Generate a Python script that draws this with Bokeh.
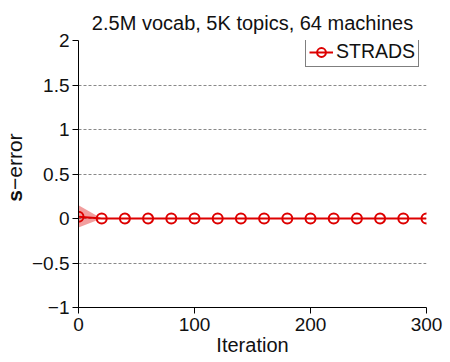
from bokeh.plotting import figure
from bokeh.layouts import row
from bokeh.models import Range1d, Label, FixedTicker, Legend, LegendItem
from bokeh.embed import file_html
from bokeh.resources import INLINE

# data
iterations = [0, 20, 40, 60, 80, 100, 120, 140, 160, 180, 200, 220, 240, 260, 280, 300]
s_error = [0.02, 0, 0, 0, 0, 0, 0, 0, 0, 0, 0, 0, 0, 0, 0, 0]
band_x = [0, 20]
band_upper = [0.15, 0.0]
band_lower = [-0.10, 0.0]
x_ticks = [0, 100, 200, 300]
y_ticks = [-1, -0.5, 0, 0.5, 1, 1.5, 2]
y_tick_labels = {-1: "\u22121", -0.5: "\u22120.5", 0: "0", 0.5: "0.5", 1: "1", 1.5: "1.5", 2: "2"}
series_name = "STRADS"

FONT = "Liberation Sans"
RED = "#dd0000"
TOP, BOTTOM = 40, 50
H = 358
SIDE_W = 28

main = figure(width=446 - SIDE_W, height=H, output_backend="svg", toolbar_location=None,
              x_range=Range1d(0, 300), y_range=Range1d(-1, 2),
              min_border_left=50, min_border_right=20, min_border_top=TOP,
              min_border_bottom=BOTTOM,
              title="2.5M vocab, 5K topics, 64 machines")
main.outline_line_color = None
main.background_fill_color = "white"
main.border_fill_color = "white"

main.title.text_font = FONT
main.title.text_font_size = "20px"
main.title.text_font_style = "normal"
main.title.align = "center"
main.title.text_color = "#111111"
main.title.standoff = 13

for ax in (main.xaxis[0], main.yaxis[0]):
    ax.axis_line_color = "black"
    ax.major_tick_line_color = "black"
    ax.major_tick_out = 6
    ax.major_tick_in = 0
    ax.minor_tick_line_color = None
    ax.major_label_text_font = FONT
    ax.major_label_text_font_size = "19px"
    ax.major_label_text_color = "#111111"

main.xaxis.ticker = FixedTicker(ticks=x_ticks)
main.yaxis.ticker = FixedTicker(ticks=y_ticks)
main.yaxis.major_label_overrides = y_tick_labels
main.xaxis.axis_label = "Iteration"
main.xaxis.axis_label_text_font = FONT
main.xaxis.axis_label_text_font_size = "20px"
main.xaxis.axis_label_text_font_style = "normal"
main.xaxis.axis_label_text_color = "#111111"
main.xaxis.axis_label_standoff = 0
main.xaxis.major_label_standoff = 4
main.yaxis.major_label_standoff = 3

main.xgrid.grid_line_color = None
main.ygrid.grid_line_color = "#888888"
main.ygrid.grid_line_dash = "3 2"
main.ygrid.grid_line_width = 1

main.varea(x=band_x, y1=band_lower, y2=band_upper, fill_color=RED, fill_alpha=0.38)
ln = main.line(iterations, s_error, line_color=RED, line_width=2)
sc = main.scatter(iterations, s_error, marker="circle", size=10, line_color=RED,
                  line_width=2, fill_color=None)

legend = Legend(items=[LegendItem(label=series_name, renderers=[ln, sc])],
                location=(227, 240))
legend.label_text_font = FONT
legend.label_text_font_size = "19.5px"
legend.label_text_color = "#111111"
legend.border_line_color = "black"
legend.border_line_width = 1
legend.background_fill_alpha = 1
legend.padding = 3
legend.spacing = 0
legend.margin = 0
legend.glyph_width = 24
legend.glyph_height = 22
legend.label_standoff = 3
legend.label_height = 22
main.add_layout(legend)

# narrow panel holding the y-axis title (bold "s" + "−error")
side = figure(width=SIDE_W, height=H, output_backend="svg", toolbar_location=None,
              x_range=Range1d(0, 1), y_range=main.y_range,
              x_axis_type=None, y_axis_type=None,
              min_border_left=0, min_border_right=0, min_border_top=TOP,
              min_border_bottom=BOTTOM)
side.outline_line_color = None
side.grid.visible = False
side.border_fill_color = "white"
side.add_layout(Label(x=14, y=0.32, x_units="screen", y_units="data", text="s",
                      angle=1.5708, text_align="right", text_baseline="middle",
                      text_font=FONT, text_font_size="21px", text_font_style="bold",
                      text_color="#111111"))
side.add_layout(Label(x=14, y=0.32, x_units="screen", y_units="data", text="\u2212error",
                      angle=1.5708, text_align="left", text_baseline="middle",
                      text_font=FONT, text_font_size="21px", text_font_style="normal",
                      text_color="#111111"))

p = row(side, main, spacing=0)

open("out.html", "w").write(file_html(p, INLINE))
